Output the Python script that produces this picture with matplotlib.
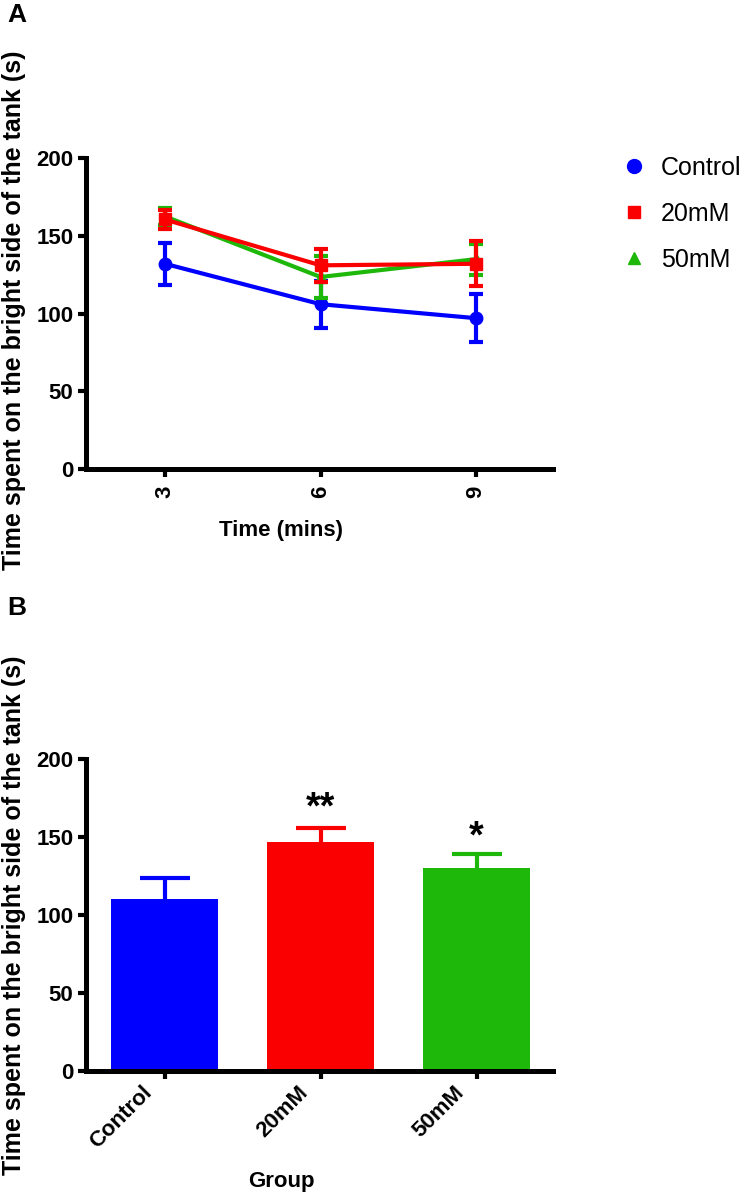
import numpy as np
import matplotlib
matplotlib.use("Agg")
import matplotlib.pyplot as plt
from matplotlib.lines import Line2D
from matplotlib.transforms import ScaledTranslation

plt.rcParams['font.family'] = ['Liberation Sans', 'DejaVu Sans']

# ==========================================
# DATA
# ==========================================
times = [3, 6, 9]
control_mean = [132, 106, 97]
control_sem = [13.5, 15, 15.5]
mm20_mean = [160.5, 131, 132]
mm20_sem = [6, 10.5, 14.5]
mm50_mean = [162.5, 123.5, 135]
mm50_sem = [5.5, 13.5, 10]

groups = ["Control", "20mM", "50mM"]
bar_mean = [110, 146.5, 130]
bar_sem = [14, 9.5, 9]
stars = ["", "**", "*"]

BLUE = "#0000FF"
RED = "#FA0000"
GREEN = "#1DB80A"
colors = [BLUE, RED, GREEN]

ylabel = "Time spent on the bright side of the tank (s)"
yticks = [0, 50, 100, 150, 200]

fig = plt.figure(figsize=(7.44, 11.99), dpi=100)
axA = fig.add_axes([0.1156, 0.6088, 0.6277, 0.2594])
axB = fig.add_axes([0.1156, 0.1068, 0.6277, 0.2602])


def style_axes(ax):
    for s in ["top", "right"]:
        ax.spines[s].set_visible(False)
    for s in ["left", "bottom"]:
        ax.spines[s].set_linewidth(3.6)
    ax.tick_params(width=3, length=6, labelsize=16, pad=3)
    ax.set_ylim(0, 200)
    ax.set_yticks(yticks)
    ax.set_yticklabels([str(v) for v in yticks], fontweight="bold")


# ==========================================
# PANEL A - line plot
# ==========================================
axA.errorbar(times, control_mean, yerr=control_sem, color=BLUE, marker="o",
             markersize=9, lw=3, elinewidth=3, capsize=5, capthick=3, zorder=3)
axA.errorbar(times, mm50_mean, yerr=mm50_sem, color=GREEN, marker="^",
             markersize=9, lw=3, elinewidth=3, capsize=5, capthick=3, zorder=4)
axA.errorbar(times, mm20_mean, yerr=mm20_sem, color=RED, marker="s",
             markersize=8, lw=3, elinewidth=3, capsize=5, capthick=3, zorder=5)
axA.set_xlim(1.48, 10.48)
axA.set_xticks(times)
style_axes(axA)
axA.set_xticklabels([str(t) for t in times], rotation=90, fontweight="bold",
                    fontsize=16)
axA.tick_params(axis="x", pad=6)

axA.set_ylabel(ylabel, fontsize=18, fontweight="bold")
axA.yaxis.set_label_coords(-0.154, 0.51)
axA.yaxis.label.set_va("center")
axA.set_xlabel("Time (mins)", fontsize=16, fontweight="bold")
axA.xaxis.set_label_coords(0.4176, -0.198)
axA.xaxis.label.set_va("center")

handles = [
    Line2D([], [], color=BLUE, marker="o", linestyle="none", markersize=10),
    Line2D([], [], color=RED, marker="s", linestyle="none", markersize=9),
    Line2D([], [], color=GREEN, marker="^", linestyle="none", markersize=9),
]
axA.legend(handles, groups, loc="upper left",
           bbox_to_anchor=(621 / 744, 1 - 156 / 1199),
           bbox_transform=fig.transFigure, frameon=False, fontsize=18,
           handlelength=1.0, handletextpad=0.6, labelspacing=0.88,
           borderpad=0, borderaxespad=0)

# ==========================================
# PANEL B - bar plot
# ==========================================
x = np.arange(len(groups))
axB.bar(x, bar_mean, width=0.69, color=colors, zorder=2)
for i in range(len(groups)):
    eb = axB.errorbar(x[i], bar_mean[i], yerr=[[0], [bar_sem[i]]],
                      color=colors[i], elinewidth=3, capsize=18, capthick=3,
                      zorder=1)
    eb[1][0].set_visible(False)
    if stars[i]:
        axB.text(x[i], bar_mean[i] + bar_sem[i] + 2 + 2 * len(stars[i]),
                 stars[i], ha="center", va="baseline", fontsize=27,
                 fontweight="bold")
axB.set_xlim(-0.504, 2.49)
axB.set_xticks(x)
style_axes(axB)
axB.set_xticklabels(groups, rotation=45, ha="right", va="center",
                    rotation_mode="anchor", fontweight="bold", fontsize=16)
offset = ScaledTranslation(-0.16, -0.06, fig.dpi_scale_trans)
for lab in axB.get_xticklabels():
    lab.set_transform(lab.get_transform() + offset)

axB.set_ylabel(ylabel, fontsize=18, fontweight="bold")
axB.yaxis.set_label_coords(-0.154, 0.5)
axB.yaxis.label.set_va("center")
axB.set_xlabel("Group", fontsize=16, fontweight="bold")
axB.xaxis.set_label_coords(0.4176, -0.355)
axB.xaxis.label.set_va("center")

# panel letters
fig.text(7 / 744, 1 - 15 / 1199, "A", fontsize=19, fontweight="bold", va="center")
fig.text(7 / 744, 1 - 608 / 1199, "B", fontsize=19, fontweight="bold", va="center")

fig.savefig("out.png", dpi=100)
